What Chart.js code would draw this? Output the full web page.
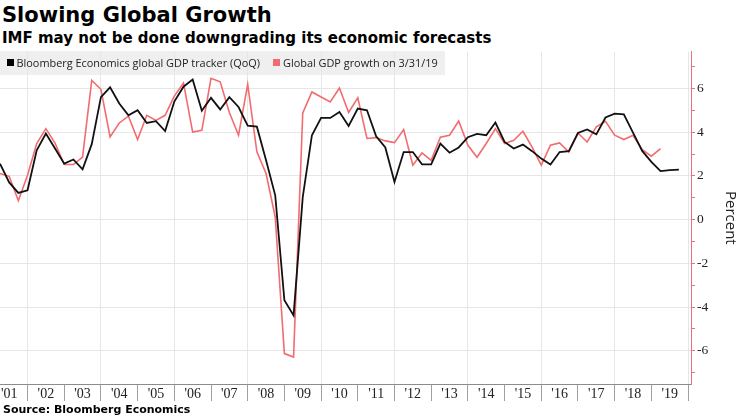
<!DOCTYPE html>
<html>
<head>
<meta charset="utf-8">
<script src="https://cdn.jsdelivr.net/npm/chart.js@4.4.1/dist/chart.umd.min.js"></script>
<style>
html,body{margin:0;padding:0;background:#fff;}
#wrap{position:relative;width:740px;height:416px;overflow:hidden;background:#fff;}
.tt{position:absolute;left:2px;font-family:"DejaVu Sans";font-weight:bold;white-space:nowrap;color:#000;}
#t1{top:4.9px;font-size:21px;line-height:21px;}
#t2{top:30.6px;font-size:15px;line-height:15px;}
#legendbg{position:absolute;left:0;top:51px;width:445px;height:24px;background:#efefef;}
.lg{position:absolute;top:51px;font-family:"Open Sans";font-size:10.9px;line-height:24px;color:#222;white-space:nowrap;}
.sw{position:absolute;top:59px;width:7px;height:7px;}
#src{position:absolute;left:3px;top:404px;font-family:"DejaVu Sans";font-weight:bold;font-size:11px;line-height:11px;color:#000;white-space:nowrap;}
canvas{position:absolute;left:0;top:0;}
</style>
</head>
<body>
<div id="wrap">
  <div class="tt" id="t1">Slowing Global Growth</div>
  <div class="tt" id="t2">IMF may not be done downgrading its economic forecasts</div>
  <div id="legendbg"></div>
  <canvas id="c" width="740" height="416"></canvas>
  <span class="lg" style="left:16.5px">Bloomberg Economics global GDP tracker (QoQ)</span>
  <span class="lg" style="left:283px">Global GDP growth on 3/31/19</span>
  <div class="sw" style="left:7px;background:#000"></div>
  <div class="sw" style="left:273px;background:#f26b6f"></div>
  <div id="src">Source: Bloomberg Economics</div>
</div>
<script>
// ---- data ----
const seriesNames = ['Bloomberg Economics global GDP tracker (QoQ)', 'Global GDP growth on 3/31/19'];
const firstQuarter = 2001.25;   // Q1 2001, plotted at quarter end
const quarterStep = 0.25;
const xTickLabels = ["'01","'02","'03","'04","'05","'06","'07","'08","'09","'10","'11","'12","'13","'14","'15","'16","'17","'18","'19"];
const yTickValues = [-6,-4,-2,0,2,4,6];

const trackerQoQ = [
  2.56, 1.70, 1.22, 1.34, 3.17, 3.94, 3.25, 2.56,
  2.75, 2.30, 3.45, 5.60, 6.05, 5.31, 4.77, 5.00,
  4.42, 4.50, 4.05, 5.40, 6.08, 6.41, 4.98, 5.57,
  5.04, 5.60, 5.15, 4.30, 4.25, 2.71, 1.11, -3.69,
  -4.38, 1.03, 3.86, 4.65, 4.65, 4.92, 4.28, 5.08,
  5.00, 3.81, 3.30, 1.72, 3.09, 3.09, 2.53, 2.53,
  3.48, 3.06, 3.30, 3.77, 3.92, 3.86, 4.44, 3.55,
  3.25, 3.43, 3.13, 2.79, 2.52, 3.09, 3.13, 3.96,
  4.12, 3.90, 4.67, 4.85, 4.81, 3.98, 3.14, 2.64,
  2.22, 2.26, 2.29
];
const gdpGrowth = [
  2.11, 1.98, 0.86, 2.03, 3.48, 4.16, 3.50, 2.52,
  2.52, 2.86, 6.37, 5.96, 3.78, 4.42, 4.73, 3.66,
  4.77, 4.54, 4.77, 5.65, 6.25, 4.00, 4.08, 6.46,
  6.30, 4.90, 3.86, 6.19, 3.10, 2.11, 0.12, -6.13,
  -6.29, 4.88, 5.84, 5.61, 5.38, 6.02, 4.90, 5.57,
  3.71, 3.75, 3.60, 3.52, 4.12, 2.49, 3.05, 2.71,
  3.77, 3.86, 4.51, 3.40, 2.85, 3.48, 4.16, 3.48,
  3.63, 4.04, 3.32, 2.49, 3.40, 3.51, 3.09, 3.96,
  3.55, 4.24, 4.50, 3.86, 3.66, 3.86, 3.20, 2.90,
  3.25
];

const toPoints = arr => arr.map((v, i) => ({x: firstQuarter + i * quarterStep, y: v}));
const firstYear = 2001;
const isInt = v => Math.abs(v - Math.round(v)) < 1e-6;

Chart.defaults.font.family = '"Open Sans"';

new Chart(document.getElementById('c'), {
  type: 'line',
  data: {
    datasets: [
      {label: seriesNames[0], data: toPoints(trackerQoQ), borderColor: '#111111', borderWidth: 1.8, pointRadius: 0, tension: 0, fill: false},
      {label: seriesNames[1], data: toPoints(gdpGrowth), borderColor: '#f26b6f', borderWidth: 1.6, pointRadius: 0, tension: 0, fill: false}
    ]
  },
  options: {
    responsive: false,
    devicePixelRatio: 1,
    animation: false,
    layout: {padding: {top: 51.7, left: 0, right: 0, bottom: 0}},
    plugins: {legend: {display: false}, tooltip: {enabled: false}, title: {display: false}},
    scales: {
      x: {
        type: 'linear',
        min: firstQuarter,
        max: 2020.08,
        afterBuildTicks: s => {
          const t = [];
          xTickLabels.forEach((lab, k) => {
            t.push({value: firstYear + k + 0.5});
            t.push({value: firstYear + k + 1});
          });
          s.ticks = t;
        },
        afterFit: s => { s.height = 32; },
        border: {display: true, color: '#8c8c8c', width: 1},
        grid: {
          drawOnChartArea: true,
          color: c => (c.tick && isInt(c.tick.value) && Math.round(c.tick.value) % 2 === 0) ? '#e6e6e6' : 'rgba(0,0,0,0)',
          tickColor: c => (c.tick && isInt(c.tick.value)) ? '#a0a0a0' : 'rgba(0,0,0,0)',
          tickLength: 17,
          lineWidth: 1
        },
        ticks: {
          autoSkip: false, maxRotation: 0, minRotation: 0,
          padding: -15.5,
          color: '#222',
          font: {family: '"Liberation Sans Narrow"', size: 14},
          callback: v => {
            if (isInt(v)) return '';
            const k = Math.round(v - firstYear - 0.5);
            return xTickLabels[k] || '';
          }
        }
      },
      y: {
        type: 'linear',
        position: 'right',
        min: -7.52,
        max: 7.68,
        afterBuildTicks: s => {
          const t = [];
          for (let v = yTickValues[0] - 1; v <= yTickValues[yTickValues.length - 1] + 1; v++) t.push({value: v});
          s.ticks = t;
        },
        afterFit: s => { s.width = 49; },
        border: {display: true, color: '#e5737a', width: 1},
        grid: {
          drawOnChartArea: true,
          color: c => (c.tick && yTickValues.includes(c.tick.value)) ? '#e6e6e6' : 'rgba(0,0,0,0)',
          tickColor: '#e5737a',
          tickLength: 4,
          lineWidth: 1
        },
        ticks: {
          padding: 2,
          color: '#222',
          font: {family: '"Liberation Sans Narrow"', size: 13.5},
          callback: v => yTickValues.includes(v) ? String(v) : ''
        },
        title: {display: true, text: 'Percent', color: '#222', font: {family: '"Open Sans"', size: 15}, padding: {top: 1, bottom: 0}}
      }
    }
  }
});
</script>
</body>
</html>
